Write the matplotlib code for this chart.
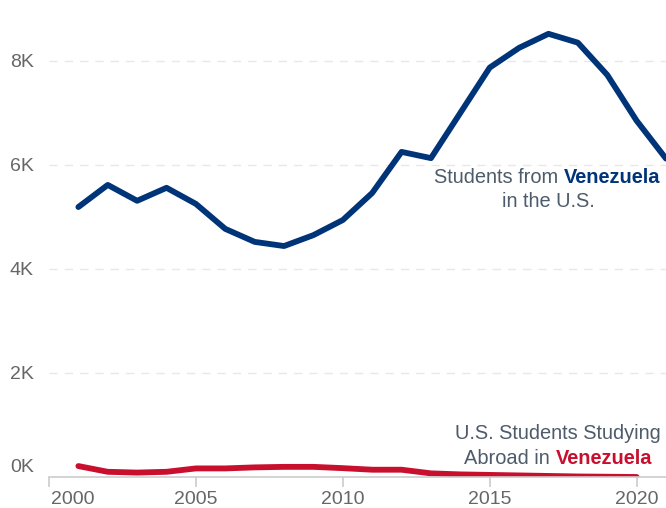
import matplotlib.pyplot as plt
from matplotlib.transforms import ScaledTranslation

# data
years = list(range(2001, 2022))
from_venezuela = [5190, 5615, 5310, 5560, 5250, 4770, 4520, 4440, 4650, 4940, 5460,
                  6250, 6130, 7000, 7870, 8250, 8520, 8350, 7730, 6850, 6120]
us_years = list(range(2001, 2021))
us_abroad = [210, 100, 85, 100, 165, 165, 185, 195, 195, 170, 140, 140, 70, 50, 40,
             30, 20, 10, 5, 0]

y_ticks = [0, 2000, 4000, 6000, 8000]
y_labels = ["0K", "2K", "4K", "6K", "8K"]
x_ticks = [2000, 2005, 2010, 2015, 2020]

blue = "#003478"
red = "#c8102e"
grey_txt = "#4d5b6b"

plt.rcParams['font.family'] = ['Liberation Sans', 'DejaVu Sans']

fig = plt.figure(figsize=(6.66, 5.08), dpi=100)
ax = fig.add_axes([49 / 666, 1 - 477 / 508, 1 - 49 / 666, 477 / 508])

ax.plot(years, from_venezuela, color=blue, lw=4.2, solid_capstyle='round', clip_on=True)
ax.plot(us_years, us_abroad, color=red, lw=4.2, solid_capstyle='round', clip_on=True)

ax.set_xlim(2000, 2021)
ax.set_ylim(0, 9170)

for s in ['top', 'right', 'left']:
    ax.spines[s].set_visible(False)
ax.spines['bottom'].set_color('#cccccc')
ax.spines['bottom'].set_linewidth(1.2)

ax.set_yticks(y_ticks)
ax.set_yticklabels(y_labels)
ax.tick_params(axis='y', length=0, pad=11, labelsize=14, labelcolor='#666666')
ax.set_xticks(x_ticks)
ax.set_xticklabels([str(x) for x in x_ticks])
ax.tick_params(axis='x', length=7, width=1.2, color='#cccccc', pad=3, labelsize=14, labelcolor='#666666')

for y in y_ticks[1:]:
    ax.axhline(y, color='#e8e8e8', lw=1, ls=(0, (6, 5)), zorder=0)

# nudge edge labels like the original
ylab0 = ax.get_yticklabels()[0]
ylab0.set_transform(ylab0.get_transform() + ScaledTranslation(0, 12 / 100, fig.dpi_scale_trans))
xlab0 = ax.get_xticklabels()[0]
xlab0.set_transform(xlab0.get_transform() + ScaledTranslation(24 / 100, 0, fig.dpi_scale_trans))

# annotations
fs = 14.4
v1 = ax.text(2020.8, 5750, "Venezuela", ha='right', va='center', fontsize=fs,
             color=blue, fontweight='bold')
ax.annotate("Students from ", xy=(0, 0.5), xycoords=v1, ha='right', va='center',
            fontsize=fs, color=grey_txt)
ax.text(2016.98, 5300, "in the U.S.", ha='center', va='center', fontsize=fs, color=grey_txt)

ax.text(2017.32, 830, "U.S. Students Studying", ha='center', va='center', fontsize=fs, color=grey_txt)
v2 = ax.text(2020.52, 365, "Venezuela", ha='right', va='center', fontsize=fs,
             color=red, fontweight='bold')
ax.annotate("Abroad in ", xy=(0, 0.5), xycoords=v2, ha='right', va='center',
            fontsize=fs, color=grey_txt)

fig.savefig("out.png", dpi=100)
